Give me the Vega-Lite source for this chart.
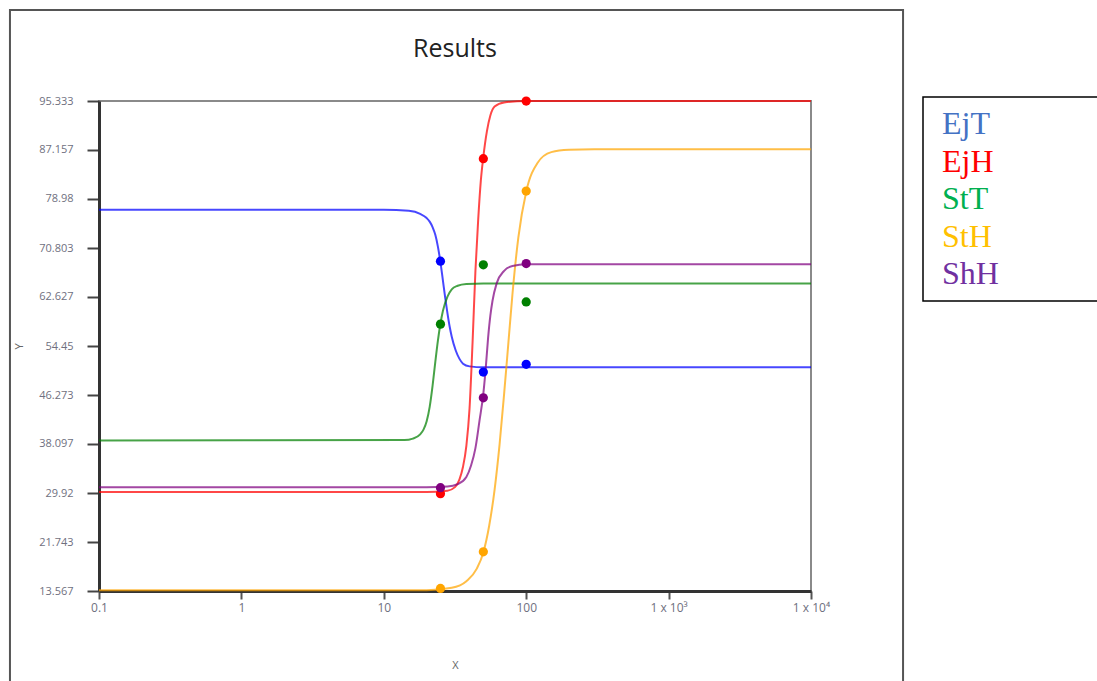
{
  "$schema": "https://vega.github.io/schema/vega-lite/v6.json",
  "width": 712,
  "height": 490,
  "autosize": {"type": "none"},
  "padding": {"left": 99, "top": 101, "right": 286, "bottom": 90},
  "background": "white",
  "config": {
    "view": {"stroke": "#8a8a8a", "strokeWidth": 2},
    "font": "Open Sans"
  },
  "title": {
    "text": "Results",
    "font": "Open Sans",
    "fontSize": 25,
    "fontWeight": "normal",
    "color": "#222222",
    "frame": "group",
    "anchor": "middle",
    "offset": -53
  },
  "datasets": {
    "frame": [{"name": "frame"}],
    "curves": [
      {"series": "EjT", "x": 0.1, "y": 77.2},
      {"series": "EjT", "x": 10, "y": 77.2},
      {"series": "EjT", "x": 15, "y": 77.0},
      {"series": "EjT", "x": 18, "y": 76.5},
      {"series": "EjT", "x": 20, "y": 75.8},
      {"series": "EjT", "x": 21, "y": 75.2},
      {"series": "EjT", "x": 22, "y": 74.3},
      {"series": "EjT", "x": 23, "y": 73.0},
      {"series": "EjT", "x": 24, "y": 71.0},
      {"series": "EjT", "x": 25, "y": 68.4},
      {"series": "EjT", "x": 26, "y": 65.4},
      {"series": "EjT", "x": 27, "y": 62.5},
      {"series": "EjT", "x": 28, "y": 59.9},
      {"series": "EjT", "x": 29, "y": 57.7},
      {"series": "EjT", "x": 30, "y": 56.0},
      {"series": "EjT", "x": 32, "y": 53.7},
      {"series": "EjT", "x": 34, "y": 52.3},
      {"series": "EjT", "x": 36, "y": 51.5},
      {"series": "EjT", "x": 40, "y": 51.05},
      {"series": "EjT", "x": 50, "y": 50.9},
      {"series": "EjT", "x": 10000, "y": 50.9},
      {"series": "EjH", "x": 0.1, "y": 30.1},
      {"series": "EjH", "x": 20, "y": 30.1},
      {"series": "EjH", "x": 28, "y": 30.3},
      {"series": "EjH", "x": 31.6, "y": 30.9},
      {"series": "EjH", "x": 34, "y": 32.2},
      {"series": "EjH", "x": 36, "y": 34.3},
      {"series": "EjH", "x": 38, "y": 37.8},
      {"series": "EjH", "x": 40, "y": 44},
      {"series": "EjH", "x": 42, "y": 55},
      {"series": "EjH", "x": 44, "y": 67},
      {"series": "EjH", "x": 46, "y": 75.5},
      {"series": "EjH", "x": 48, "y": 82},
      {"series": "EjH", "x": 50, "y": 86},
      {"series": "EjH", "x": 53, "y": 90.3},
      {"series": "EjH", "x": 56, "y": 92.9},
      {"series": "EjH", "x": 60, "y": 94.4},
      {"series": "EjH", "x": 70, "y": 95.1},
      {"series": "EjH", "x": 100, "y": 95.33},
      {"series": "EjH", "x": 10000, "y": 95.33},
      {"series": "StT", "x": 0.1, "y": 38.7},
      {"series": "StT", "x": 14, "y": 38.75},
      {"series": "StT", "x": 16, "y": 39.0},
      {"series": "StT", "x": 18, "y": 39.7},
      {"series": "StT", "x": 19, "y": 40.5},
      {"series": "StT", "x": 20, "y": 41.9},
      {"series": "StT", "x": 21, "y": 44.3},
      {"series": "StT", "x": 22, "y": 47.8},
      {"series": "StT", "x": 23, "y": 51.8},
      {"series": "StT", "x": 24, "y": 55.4},
      {"series": "StT", "x": 25, "y": 58.2},
      {"series": "StT", "x": 26, "y": 60.3},
      {"series": "StT", "x": 28, "y": 62.7},
      {"series": "StT", "x": 30, "y": 63.9},
      {"series": "StT", "x": 33, "y": 64.5},
      {"series": "StT", "x": 38, "y": 64.8},
      {"series": "StT", "x": 50, "y": 64.9},
      {"series": "StT", "x": 10000, "y": 64.9},
      {"series": "StH", "x": 0.1, "y": 13.7},
      {"series": "StH", "x": 20, "y": 13.7},
      {"series": "StH", "x": 30, "y": 14.1},
      {"series": "StH", "x": 38, "y": 15.2},
      {"series": "StH", "x": 45, "y": 17.3},
      {"series": "StH", "x": 50, "y": 20.0},
      {"series": "StH", "x": 55, "y": 24.5},
      {"series": "StH", "x": 60, "y": 30.5},
      {"series": "StH", "x": 65, "y": 38.0},
      {"series": "StH", "x": 70, "y": 46.5},
      {"series": "StH", "x": 75, "y": 55},
      {"series": "StH", "x": 80, "y": 63},
      {"series": "StH", "x": 88, "y": 72.5},
      {"series": "StH", "x": 100, "y": 80.2},
      {"series": "StH", "x": 120, "y": 85},
      {"series": "StH", "x": 150, "y": 86.8},
      {"series": "StH", "x": 200, "y": 87.2},
      {"series": "StH", "x": 300, "y": 87.3},
      {"series": "StH", "x": 10000, "y": 87.3},
      {"series": "ShH", "x": 0.1, "y": 30.9},
      {"series": "ShH", "x": 20, "y": 30.9},
      {"series": "ShH", "x": 28, "y": 31.0},
      {"series": "ShH", "x": 33, "y": 31.4},
      {"series": "ShH", "x": 38, "y": 32.6},
      {"series": "ShH", "x": 41, "y": 34.5},
      {"series": "ShH", "x": 44, "y": 37.4},
      {"series": "ShH", "x": 47, "y": 42},
      {"series": "ShH", "x": 50, "y": 46.5},
      {"series": "ShH", "x": 52, "y": 50.8},
      {"series": "ShH", "x": 54, "y": 55.8},
      {"series": "ShH", "x": 56, "y": 59.5},
      {"series": "ShH", "x": 58, "y": 62},
      {"series": "ShH", "x": 62, "y": 64.9},
      {"series": "ShH", "x": 70, "y": 67.0},
      {"series": "ShH", "x": 80, "y": 67.8},
      {"series": "ShH", "x": 100, "y": 68.1},
      {"series": "ShH", "x": 10000, "y": 68.1}
    ],
    "points": [
      {"series": "EjT", "x": 25, "y": 68.6},
      {"series": "EjT", "x": 50, "y": 50.1},
      {"series": "EjT", "x": 100, "y": 51.4},
      {"series": "EjH", "x": 25, "y": 29.8},
      {"series": "EjH", "x": 50, "y": 85.7},
      {"series": "EjH", "x": 100, "y": 95.33},
      {"series": "StT", "x": 25, "y": 58.1},
      {"series": "StT", "x": 50, "y": 68.0},
      {"series": "StT", "x": 100, "y": 61.8},
      {"series": "StH", "x": 25, "y": 14.0},
      {"series": "StH", "x": 50, "y": 20.1},
      {"series": "StH", "x": 100, "y": 80.3},
      {"series": "ShH", "x": 25, "y": 30.8},
      {"series": "ShH", "x": 50, "y": 45.8},
      {"series": "ShH", "x": 100, "y": 68.2}
    ]
  },
  "layer": [
    {
      "data": {"name": "frame"},
      "mark": {"type": "rect", "clip": false, "fill": "white", "fillOpacity": 0, "stroke": "#555555", "strokeWidth": 2},
      "encoding": {
        "x": {"datum": 0.0237, "type": "quantitative", "scale": {"type": "log", "domain": [0.1, 10000]}},
        "x2": {"datum": 44300},
        "y": {"datum": 110.5, "type": "quantitative", "scale": {"domain": [13.567, 95.333], "zero": false, "nice": false}},
        "y2": {"datum": -5}
      }
    },
    {
      "data": {"name": "curves"},
      "mark": {"type": "line", "interpolate": "monotone", "strokeWidth": 2, "opacity": 0.72, "clip": false},
      "encoding": {
        "x": {
          "field": "x", "type": "quantitative",
          "scale": {"type": "log", "domain": [0.1, 10000]},
          "axis": {
            "values": [0.1, 1, 10, 100, 1000, 10000],
            "labelExpr": "datum.value >= 10000 ? '1 x 10⁴' : datum.value >= 1000 ? '1 x 10³' : format(datum.value, '~g')",
            "grid": false,
            "title": "X",
            "titlePadding": 46,
            "titleFontSize": 11,
            "titleFontWeight": "normal",
            "titleColor": "#666666",
            "titleFont": "Open Sans",
            "tickSize": 8,
            "tickWidth": 2,
            "tickColor": "#555555",
            "domainColor": "#333333",
            "domainWidth": 3,
            "labelPadding": 3,
            "labelFont": "Open Sans",
            "labelFontSize": 12,
            "labelColor": "#6f7080",
            "labelFlush": false,
            "labelOverlap": false
          }
        },
        "y": {
          "field": "y", "type": "quantitative",
          "scale": {"domain": [13.567, 95.333], "zero": false, "nice": false},
          "axis": {
            "values": [13.567, 21.743, 29.92, 38.097, 46.273, 54.45, 62.627, 70.803, 78.98, 87.157, 95.333],
            "format": ".6~r",
            "grid": false,
            "title": "Y",
            "titlePadding": 14,
            "titleFontSize": 11,
            "titleFontWeight": "normal",
            "titleColor": "#666666",
            "titleFont": "Open Sans",
            "tickSize": 12,
            "tickWidth": 2,
            "tickColor": "#444444",
            "domainColor": "#333333",
            "domainWidth": 3,
            "labelPadding": 14,
            "labelFont": "Open Sans",
            "labelFontSize": 11,
            "labelColor": "#6f7080",
            "labelOverlap": false
          }
        },
        "color": {
          "field": "series", "type": "nominal",
          "scale": {"domain": ["EjT", "EjH", "StT", "StH", "ShH"], "range": ["#0000ff", "#ff0000", "#008000", "#ffa500", "#800080"]},
          "legend": {
            "orient": "none",
            "legendX": 824,
            "legendY": -4,
            "title": null,
            "symbolType": "square",
            "symbolSize": 1,
            "symbolOpacity": 0,
            "symbolStrokeWidth": 0,
            "symbolOffset": 185,
            "labelFont": "Liberation Serif",
            "labelFontSize": 32,
            "labelOffset": -209,
            "rowPadding": 5.5,
            "padding": 11,
            "strokeColor": "#000000",
            "labelLimit": 0,
            "encode": {
              "legend": {
                "update": {"strokeWidth": {"value": 1.5}}
              },
              "labels": {
                "update": {
                  "fill": {"signal": "datum.value === 'EjT' ? '#4472C4' : datum.value === 'EjH' ? '#FF0000' : datum.value === 'StT' ? '#00B050' : datum.value === 'StH' ? '#FFC000' : '#7030A0'"}
                }
              }
            }
          }
        },
        "detail": {"field": "series", "type": "nominal"}
      }
    },
    {
      "data": {"name": "points"},
      "mark": {"type": "circle", "size": 85, "opacity": 1, "clip": false},
      "encoding": {
        "x": {"field": "x", "type": "quantitative"},
        "y": {"field": "y", "type": "quantitative"},
        "color": {"field": "series", "type": "nominal"}
      }
    }
  ]
}
